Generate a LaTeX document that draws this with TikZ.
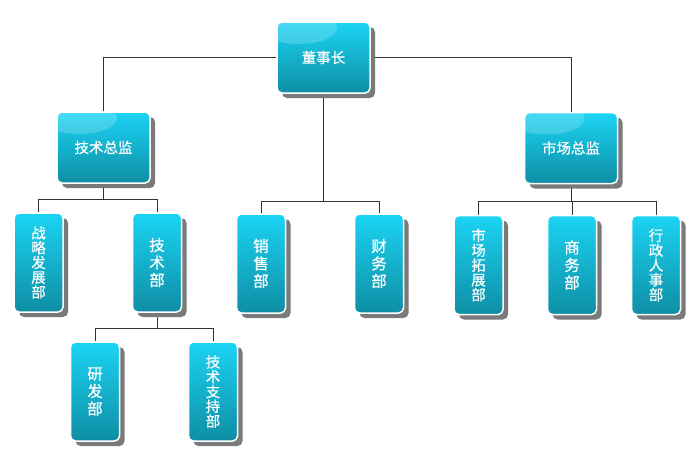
\documentclass[tikz,border=0pt]{standalone}
\usepackage{fontspec}
\newfontfamily\cjkfont[FakeBold=0.4]{Noto Sans CJK SC}
\usetikzlibrary{shadows,backgrounds}
\definecolor{boxtop}{HTML}{1BD4F4}
\definecolor{boxbottom}{HTML}{0E8EA4}
\definecolor{linegray}{HTML}{333333}

\begin{document}
\begin{tikzpicture}[x=1pt, y=-1pt,
  unit/.style={rectangle, rounded corners=5pt, draw=white, line width=1.5pt,
    top color=boxtop, bottom color=boxbottom, text=white, inner sep=0pt,
    drop shadow={shadow xshift=5pt, shadow yshift=-5pt, fill=black!52, opacity=1}},
  head/.style={unit, minimum width=93pt, minimum height=71pt,
    font=\cjkfont\fontsize{14.5}{16}\selectfont,
    path picture={\fill[white, opacity=0.18]
      ([xshift=22pt, yshift=-6pt]path picture bounding box.north west)
      ellipse [x radius=38pt, y radius=16pt];}},
  dept/.style={unit, minimum width=49pt, minimum height=99pt, align=center,
    font=\cjkfont\fontsize{15.5}{17.5}\selectfont},
  longdept/.style={dept, font=\cjkfont\fontsize{14.5}{14.8}\selectfont},
  link/.style={draw=linegray, line width=0.8pt}]
  \useasboundingbox (0,0) rectangle (700,450);

  % top level
  \node[head] (chair) at (323.5, 57.5) {董事长};
  \node[head] (techdir) at (103.5, 147.5) {技术总监};
  \node[head] (mktdir) at (571, 148) {市场总监};

  % departments
  \node[longdept] (strategy) at (38.5, 262.5) {战\\略\\发\\展\\部};
  \node[dept] (techdept) at (157, 262.5) {技\\术\\部};
  \node[dept] (sales) at (261, 263.5) {销\\售\\部};
  \node[dept] (finance) at (379, 263.5) {财\\务\\部};
  \node[longdept] (mktexp) at (478.5, 265) {市\\场\\拓\\展\\部};
  \node[dept] (business) at (572, 265) {商\\务\\部};
  \node[longdept] (admin) at (656, 265) {行\\政\\人\\事\\部};
  \node[dept] (rnd) at (95, 391.5) {研\\发\\部};
  \node[longdept] (support) at (213, 391.5) {技\\术\\支\\持\\部};

  % connectors
  \begin{scope}[on background layer]
    \draw[link] (chair.west) -| (techdir.north);
    \draw[link] (chair.east) -| (mktdir.north);
    \draw[link] (chair.south) -- ++(0,108) -| (sales.north);
    \draw[link] (chair.south) -- ++(0,108) -| (finance.north);
    \draw[link] (techdir.south) -- ++(0,16) -| (strategy.north);
    \draw[link] (techdir.south) -- ++(0,16) -| (techdept.north);
    \draw[link] (techdept.south) -- ++(0,16) -| (rnd.north);
    \draw[link] (techdept.south) -- ++(0,16) -| (support.north);
    \draw[link] (mktdir.south) -- ++(0,17) -| (mktexp.north);
    \draw[link] (mktdir.south) -- ++(0,17) -| (business.north);
    \draw[link] (mktdir.south) -- ++(0,17) -| (admin.north);
  \end{scope}
\end{tikzpicture}
\end{document}
